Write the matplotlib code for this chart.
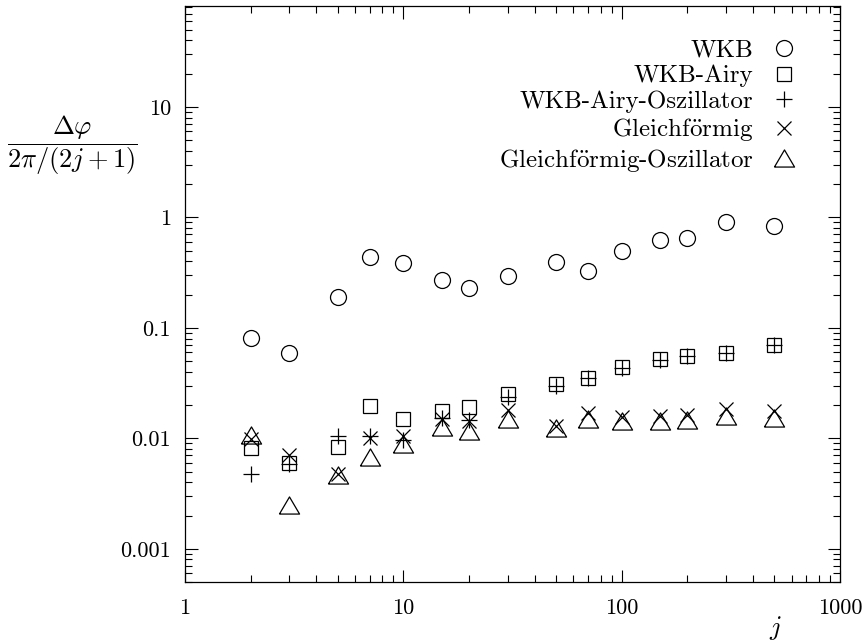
import numpy as np
import matplotlib
matplotlib.use("Agg")
import matplotlib.pyplot as plt
from matplotlib.ticker import FixedLocator, FixedFormatter, LogLocator, NullFormatter

plt.rcParams['font.family'] = ['cmr10', 'DejaVu Serif']
plt.rcParams['mathtext.fontset'] = 'cm'
plt.rcParams['axes.formatter.use_mathtext'] = True

# quantum number j
j = [2, 3, 5, 7, 10, 15, 20, 30, 50, 70, 100, 150, 200, 300, 500]

# relative phase error for each approximation
wkb = [0.081, 0.059, 0.191, 0.437, 0.383, 0.273, 0.231, 0.297, 0.392, 0.33,
       0.50, 0.62, 0.655, 0.907, 0.83]
wkb_airy = [0.0081, 0.0060, 0.0083, 0.0195, 0.0151, 0.0177, 0.0192, 0.0254,
            0.0313, 0.0352, 0.0442, 0.0519, 0.0556, 0.0596, 0.0705]
wkb_airy_osz = [0.00475, 0.0059, 0.0105, 0.0106, 0.0096, 0.0154, 0.0146, 0.0236,
                0.0300, 0.0348, 0.0437, 0.0515, 0.0552, 0.0594, 0.0702]
gleich = [0.0099, 0.0070, 0.00472, 0.0101, 0.0106, 0.0151, 0.0144, 0.0179,
          0.0128, 0.0168, 0.0156, 0.0158, 0.0164, 0.0186, 0.0176]
gleich_osz = [0.0108, 0.00249, 0.00465, 0.0068, 0.0089, 0.0126, 0.0117, 0.0151,
              0.0123, 0.0151, 0.0144, 0.0144, 0.0146, 0.0158, 0.0154]

x_ticks = [1, 10, 100, 1000]
x_tick_labels = ['1', '10', '100', '1000']
y_ticks = [0.001, 0.01, 0.1, 1, 10]
y_tick_labels = ['0.001', '0.01', '0.1', '1', '10']

# open triangle, a bit flatter than the default '^'
tri = [(-1.0, -0.85), (1.0, -0.85), (0.0, 0.85), (-1.0, -0.85)]

fig = plt.figure(figsize=(8.65, 6.44), dpi=100)
ax = fig.add_axes([185 / 865, 1 - 582 / 644, 655 / 865, 576 / 644])

style = dict(linestyle='none', color='black', markerfacecolor='none',
             markeredgewidth=0.9)
ax.plot(j, wkb, marker='o', markersize=11.5, label='WKB', **style)
ax.plot(j, wkb_airy, marker='s', markersize=10.2, label='WKB-Airy', **style)
ax.plot(j, wkb_airy_osz, marker='+', markersize=12, label='WKB-Airy-Oszillator', **style)
ax.plot(j, gleich, marker='x', markersize=9.5, label=r'Gleichf$\ddot{\mathrm{o}}$rmig', **style)
ax.plot(j, gleich_osz, marker=tri, markersize=14.5,
        label=r'Gleichf$\ddot{\mathrm{o}}$rmig-Oszillator', **style)

ax.set_xscale('log')
ax.set_yscale('log')
ax.set_xlim(1, 1000)
ax.set_ylim(0.0005, 82)

ax.xaxis.set_major_locator(FixedLocator(x_ticks))
ax.xaxis.set_major_formatter(FixedFormatter(x_tick_labels))
ax.yaxis.set_major_locator(FixedLocator(y_ticks))
ax.yaxis.set_major_formatter(FixedFormatter(y_tick_labels))
ax.xaxis.set_minor_locator(LogLocator(base=10, subs=np.arange(2, 10)))
ax.yaxis.set_minor_locator(LogLocator(base=10, subs=np.arange(2, 10)))
ax.xaxis.set_minor_formatter(NullFormatter())
ax.yaxis.set_minor_formatter(NullFormatter())

ax.tick_params(which='both', direction='in', top=True, right=True, width=0.8,
               labelsize=16)
ax.tick_params(which='major', length=9)
ax.tick_params(which='minor', length=5)
ax.tick_params(axis='x', which='major', pad=12)
ax.tick_params(axis='y', which='major', pad=10)
for s in ax.spines.values():
    s.set_linewidth(0.9)

fig.text(72 / 865, 1 - 145 / 644, r'$\dfrac{\Delta\varphi}{2\pi/(2j+1)}$',
         ha='center', va='center', fontsize=19)
fig.text(775 / 865, 1 - 628 / 644, r'$j$', ha='center', va='center', fontsize=19)

ax.legend(loc='upper right', markerfirst=False, frameon=False, fontsize=18,
          handlelength=1.0, handletextpad=0.7, labelspacing=0.13,
          borderpad=0.0, borderaxespad=0.0,
          bbox_to_anchor=(796 / 865, 1 - 39 / 644),
          bbox_transform=fig.transFigure)

fig.savefig('out.png', dpi=100)
